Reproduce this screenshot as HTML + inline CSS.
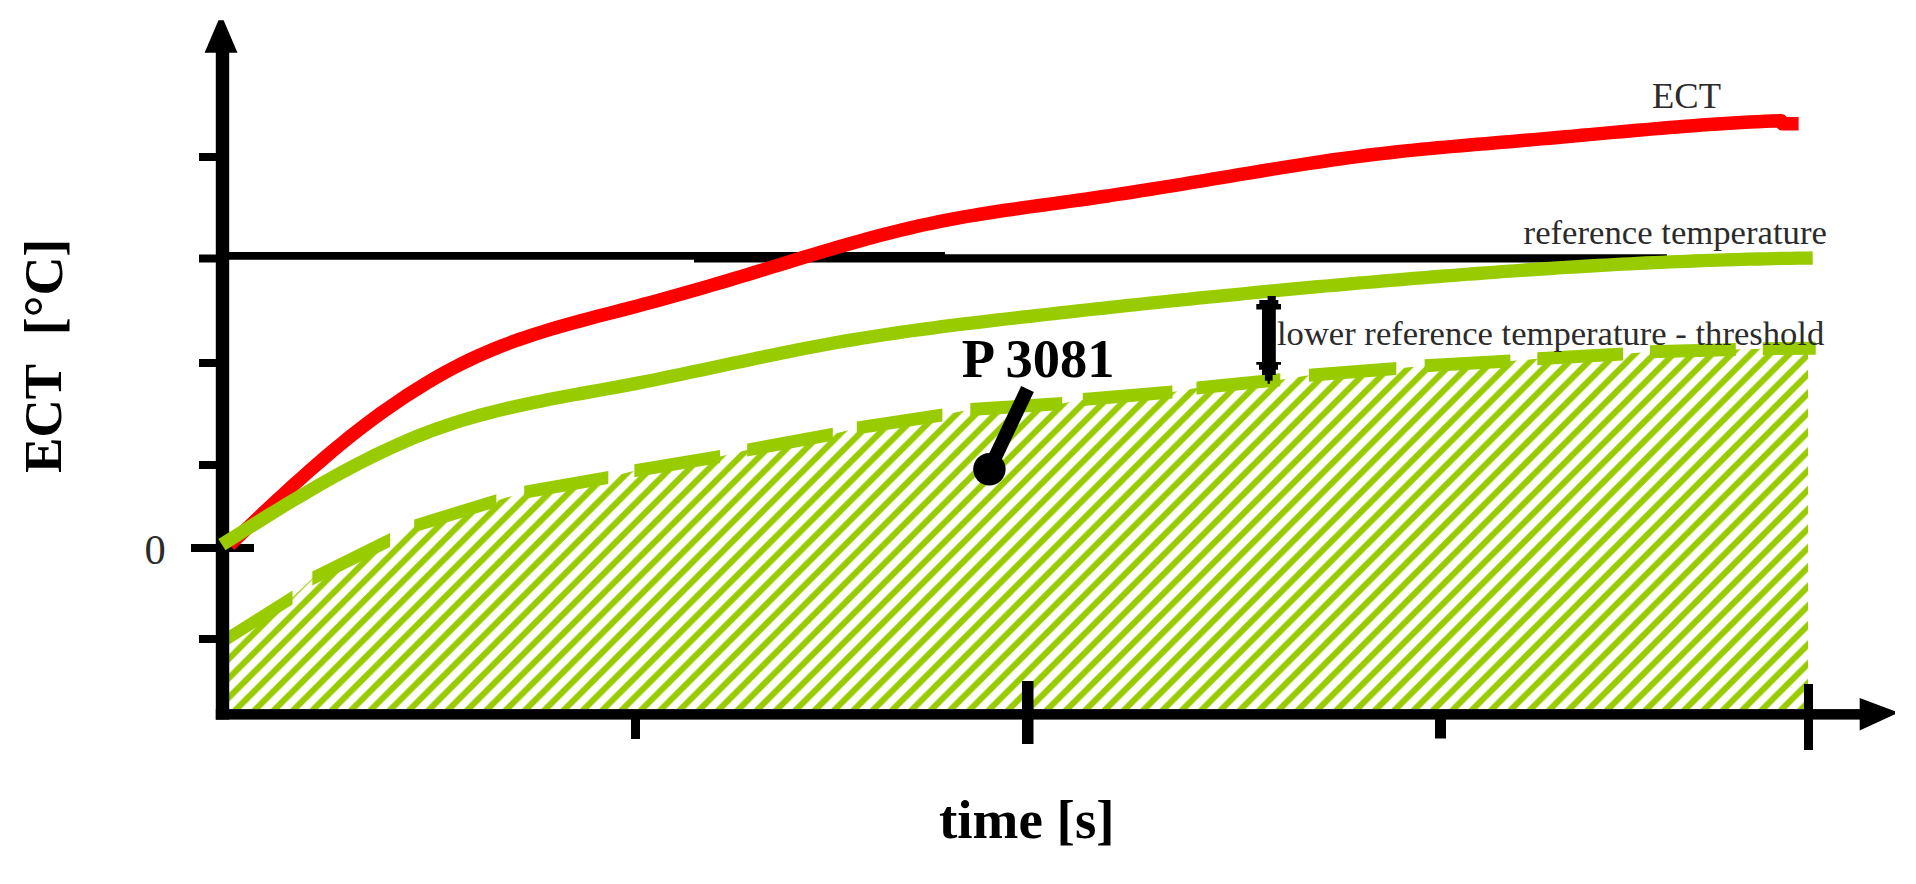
<!DOCTYPE html>
<html><head><meta charset="utf-8"><title>ECT chart</title>
<style>html,body{margin:0;padding:0;background:#fff;overflow:hidden}svg{display:block}</style>
</head><body>
<svg width="1916" height="884" viewBox="0 0 1916 884">
<defs>
<pattern id="h" patternUnits="userSpaceOnUse" width="19.32" height="19.32" x="18.2" y="0">
<path d="M-9.66 9.66 L9.66 -9.66 M0 19.32 L19.32 0 M9.66 28.98 L28.98 9.66" stroke="#99cc00" stroke-width="6.2" fill="none"/>
</pattern>
</defs>
<rect width="1916" height="884" fill="#fff"/>
<path d="M229 637.5 L229.0 637.5 L292.5 597.5 L312.3 578.5 L390.0 540.0 L414.2 525.9 L496.3 500.7 L524.2 492.3 L608.3 477.5 L634.4 470.8 L720.0 456.6 L747.2 450.0 L832.8 434.3 L856.8 428.0 L942.4 414.9 L970.3 409.5 L1062.2 403.5 L1082.8 399.4 L1172.4 392.0 L1196.5 387.9 L1280.3 379.8 L1309.0 375.2 L1396.3 368.5 L1424.6 365.8 L1510.3 361.0 L1537.3 358.8 L1623.0 354.0 L1650.0 351.7 L1735.8 349.4 L1762.8 348.7 L1808 348.3 L1808 709 L229 709 Z" fill="url(#h)"/>
<g fill="#99cc00"><polygon points="229.0,630.4 292.5,590.4 292.5,604.6 229.0,644.6"/><polygon points="312.3,571.4 390.0,532.9 390.0,547.1 312.3,585.6"/><polygon points="414.2,519.4 496.3,494.2 496.3,507.2 414.2,532.4"/><polygon points="524.2,485.8 608.3,471.0 608.3,484.0 524.2,498.8"/><polygon points="634.4,464.3 720.0,450.1 720.0,463.1 634.4,477.3"/><polygon points="747.2,443.5 832.8,427.8 832.8,440.8 747.2,456.5"/><polygon points="856.8,421.5 942.4,408.4 942.4,421.4 856.8,434.5"/><polygon points="970.3,403.0 1062.2,397.0 1062.2,410.0 970.3,416.0"/><polygon points="1082.8,392.9 1172.4,385.5 1172.4,398.5 1082.8,405.9"/><polygon points="1196.5,381.4 1280.3,373.3 1280.3,386.3 1196.5,394.4"/><polygon points="1309.0,368.7 1396.3,362.0 1396.3,375.0 1309.0,381.7"/><polygon points="1424.6,359.3 1510.3,354.5 1510.3,367.5 1424.6,372.3"/><polygon points="1537.3,352.3 1623.0,347.5 1623.0,360.5 1537.3,365.3"/><polygon points="1650.0,345.2 1735.8,342.9 1735.8,355.9 1650.0,358.2"/><polygon points="1762.8,342.2 1815.7,341.7 1815.7,354.7 1762.8,355.2"/></g>
<polygon points="229,252 945,252 945,254.3 1667,254.3 1667,262.4 694,262.4 694,259.7 229,259.7" fill="#000"/>
<g fill="#000">
<rect x="215.8" y="50" width="13.4" height="669.6"/>
<polygon points="204.6,52.8 218.5,20.2 223.6,20.2 237.5,52.8"/>
<rect x="215.8" y="709.1" width="1646" height="10.5"/>
<polygon points="1859.7,697.9 1895,711.3 1895,714.3 1859.7,730.5"/>
<rect x="199" y="153" width="17" height="8"/>
<rect x="199" y="254.5" width="17" height="8"/>
<rect x="199" y="359" width="17" height="8"/>
<rect x="199" y="461" width="17" height="8"/>
<rect x="191" y="544" width="63" height="8"/>
<rect x="199" y="635" width="17" height="8"/>
<rect x="631" y="715" width="9" height="24"/>
<rect x="1022" y="681" width="11.5" height="63"/>
<rect x="1435" y="715" width="11" height="23.5"/>
<rect x="1804" y="684" width="9" height="66"/>
</g>
<path d="M229.5 545.2 L237.5 537.5 L245.5 529.9 L253.5 522.3 L261.5 514.7 L269.5 507.2 L277.5 499.8 L285.5 492.4 L293.5 485.1 L301.5 477.9 L309.5 470.8 L317.5 463.8 L325.5 457.0 L333.5 450.2 L341.5 443.6 L349.5 437.1 L357.5 430.8 L365.5 424.7 L373.5 418.7 L381.5 412.8 L389.5 407.2 L397.5 401.7 L405.5 396.3 L413.5 391.2 L421.5 386.2 L429.5 381.3 L437.5 376.7 L445.5 372.2 L453.5 367.9 L461.5 363.8 L469.5 359.9 L477.5 356.2 L485.5 352.6 L493.5 349.2 L501.5 346.0 L509.5 343.0 L517.5 340.0 L525.5 337.3 L533.5 334.6 L541.5 332.1 L549.5 329.6 L557.5 327.2 L565.5 325.0 L573.5 322.7 L581.5 320.6 L589.5 318.4 L597.5 316.3 L605.5 314.3 L613.5 312.2 L621.5 310.1 L629.5 308.1 L637.5 306.0 L645.5 303.8 L653.5 301.7 L661.5 299.5 L669.5 297.3 L677.5 295.1 L685.5 292.8 L693.5 290.6 L701.5 288.3 L709.5 285.9 L717.5 283.6 L725.5 281.2 L733.5 278.8 L741.5 276.4 L749.5 274.0 L757.5 271.5 L765.5 269.1 L773.5 266.6 L781.5 264.2 L789.5 261.7 L797.5 259.3 L805.5 256.8 L813.5 254.4 L821.5 252.0 L829.5 249.6 L837.5 247.3 L845.5 245.0 L853.5 242.7 L861.5 240.5 L869.5 238.3 L877.5 236.1 L885.5 234.0 L893.5 232.0 L901.5 230.0 L909.5 228.1 L917.5 226.2 L925.5 224.5 L933.5 222.8 L941.5 221.2 L949.5 219.6 L957.5 218.1 L965.5 216.7 L973.5 215.3 L981.5 214.0 L989.5 212.8 L997.5 211.5 L1005.5 210.3 L1013.5 209.2 L1021.5 208.0 L1029.5 206.9 L1037.5 205.8 L1045.5 204.7 L1053.5 203.6 L1061.5 202.5 L1069.5 201.4 L1077.5 200.3 L1085.5 199.2 L1093.5 198.0 L1101.5 196.8 L1109.5 195.7 L1117.5 194.4 L1125.5 193.2 L1133.5 192.0 L1141.5 190.7 L1149.5 189.5 L1157.5 188.2 L1165.5 186.9 L1173.5 185.6 L1181.5 184.3 L1189.5 182.9 L1197.5 181.6 L1205.5 180.3 L1213.5 178.9 L1221.5 177.6 L1229.5 176.3 L1237.5 174.9 L1245.5 173.6 L1253.5 172.3 L1261.5 171.0 L1269.5 169.7 L1277.5 168.4 L1285.5 167.1 L1293.5 165.8 L1301.5 164.6 L1309.5 163.4 L1317.5 162.2 L1325.5 161.0 L1333.5 159.8 L1341.5 158.7 L1349.5 157.6 L1357.5 156.6 L1365.5 155.5 L1373.5 154.5 L1381.5 153.6 L1389.5 152.7 L1397.5 151.8 L1405.5 150.9 L1413.5 150.1 L1421.5 149.3 L1429.5 148.6 L1437.5 147.8 L1445.5 147.1 L1453.5 146.4 L1461.5 145.7 L1469.5 145.0 L1477.5 144.3 L1485.5 143.7 L1493.5 143.0 L1501.5 142.3 L1509.5 141.7 L1517.5 141.0 L1525.5 140.3 L1533.5 139.6 L1541.5 138.9 L1549.5 138.2 L1557.5 137.5 L1565.5 136.8 L1573.5 136.1 L1581.5 135.3 L1589.5 134.6 L1597.5 133.9 L1605.5 133.1 L1613.5 132.4 L1621.5 131.7 L1629.5 131.0 L1637.5 130.3 L1645.5 129.6 L1653.5 128.9 L1661.5 128.2 L1669.5 127.5 L1677.5 126.9 L1685.5 126.3 L1693.5 125.7 L1701.5 125.1 L1709.5 124.5 L1717.5 124.0 L1725.5 123.4 L1733.5 123.0 L1741.5 122.5 L1749.5 122.1 L1757.5 121.7 L1765.5 121.3 L1773.5 121.0 L1781.0 120.7 L1782.5 123.8 L1798.6 123.8" fill="none" stroke="#ff0000" stroke-width="13.5" stroke-linejoin="round"/>
<path d="M221.9 544.7 L229.9 539.6 L237.9 534.6 L245.9 529.5 L253.9 524.5 L261.9 519.5 L269.9 514.5 L277.9 509.6 L285.9 504.7 L293.9 499.9 L301.9 495.2 L309.9 490.5 L317.9 485.8 L325.9 481.3 L333.9 476.8 L341.9 472.4 L349.9 468.1 L357.9 463.9 L365.9 459.8 L373.9 455.8 L381.9 451.9 L389.9 448.2 L397.9 444.6 L405.9 441.1 L413.9 437.7 L421.9 434.5 L429.9 431.4 L437.9 428.5 L445.9 425.7 L453.9 423.0 L461.9 420.5 L469.9 418.1 L477.9 415.8 L485.9 413.7 L493.9 411.6 L501.9 409.6 L509.9 407.7 L517.9 405.9 L525.9 404.2 L533.9 402.5 L541.9 400.9 L549.9 399.3 L557.9 397.8 L565.9 396.3 L573.9 394.8 L581.9 393.4 L589.9 391.9 L597.9 390.5 L605.9 389.0 L613.9 387.6 L621.9 386.1 L629.9 384.6 L637.9 383.1 L645.9 381.5 L653.9 379.9 L661.9 378.3 L669.9 376.6 L677.9 375.0 L685.9 373.3 L693.9 371.6 L701.9 369.9 L709.9 368.2 L717.9 366.5 L725.9 364.8 L733.9 363.1 L741.9 361.4 L749.9 359.7 L757.9 358.0 L765.9 356.3 L773.9 354.7 L781.9 353.0 L789.9 351.4 L797.9 349.8 L805.9 348.3 L813.9 346.7 L821.9 345.2 L829.9 343.8 L837.9 342.3 L845.9 340.9 L853.9 339.6 L861.9 338.3 L869.9 337.0 L877.9 335.7 L885.9 334.5 L893.9 333.3 L901.9 332.2 L909.9 331.0 L917.9 329.9 L925.9 328.8 L933.9 327.8 L941.9 326.7 L949.9 325.7 L957.9 324.7 L965.9 323.7 L973.9 322.8 L981.9 321.8 L989.9 320.9 L997.9 319.9 L1005.9 319.0 L1013.9 318.1 L1021.9 317.2 L1029.9 316.3 L1037.9 315.4 L1045.9 314.5 L1053.9 313.6 L1061.9 312.7 L1069.9 311.8 L1077.9 310.9 L1085.9 310.0 L1093.9 309.2 L1101.9 308.3 L1109.9 307.4 L1117.9 306.6 L1125.9 305.7 L1133.9 304.9 L1141.9 304.0 L1149.9 303.2 L1157.9 302.4 L1165.9 301.5 L1173.9 300.7 L1181.9 299.9 L1189.9 299.1 L1197.9 298.2 L1205.9 297.4 L1213.9 296.6 L1221.9 295.8 L1229.9 295.1 L1237.9 294.3 L1245.9 293.5 L1253.9 292.7 L1261.9 291.9 L1269.9 291.2 L1277.9 290.4 L1285.9 289.7 L1293.9 288.9 L1301.9 288.2 L1309.9 287.4 L1317.9 286.7 L1325.9 286.0 L1333.9 285.3 L1341.9 284.6 L1349.9 283.9 L1357.9 283.2 L1365.9 282.5 L1373.9 281.8 L1381.9 281.1 L1389.9 280.4 L1397.9 279.8 L1405.9 279.1 L1413.9 278.4 L1421.9 277.8 L1429.9 277.1 L1437.9 276.5 L1445.9 275.9 L1453.9 275.3 L1461.9 274.7 L1469.9 274.0 L1477.9 273.5 L1485.9 272.9 L1493.9 272.3 L1501.9 271.7 L1509.9 271.1 L1517.9 270.6 L1525.9 270.0 L1533.9 269.5 L1541.9 269.0 L1549.9 268.5 L1557.9 267.9 L1565.9 267.4 L1573.9 267.0 L1581.9 266.5 L1589.9 266.0 L1597.9 265.5 L1605.9 265.1 L1613.9 264.7 L1621.9 264.2 L1629.9 263.8 L1637.9 263.4 L1645.9 263.0 L1653.9 262.7 L1661.9 262.3 L1669.9 261.9 L1677.9 261.6 L1685.9 261.3 L1693.9 261.0 L1701.9 260.7 L1709.9 260.4 L1717.9 260.1 L1725.9 259.8 L1733.9 259.6 L1741.9 259.4 L1749.9 259.2 L1757.9 259.0 L1765.9 258.8 L1773.9 258.6 L1781.9 258.4 L1789.9 258.3 L1797.9 258.2 L1805.9 258.1 L1812.7 258.0" fill="none" stroke="#99cc00" stroke-width="13.3" stroke-linejoin="round"/>
<g fill="#000">
<polygon points="1267.6,296 1275.8,296 1275.8,300 1278.3,300 1278.3,304 1281,304 1281,309.5 1275.8,309.5 1275.8,362 1281,362 1281,364.7 1278,364.7 1278,369.7 1275.8,369.7 1275.8,375 1272.6,375 1272.6,380.8 1269.9,380.8 1269.9,383.7 1267.6,383.7 1267.6,380.8 1264.9,380.8 1264.9,375 1262,375 1262,369.7 1259,369.7 1259,364.7 1256.3,364.7 1256.3,362 1262,362 1262,309.5 1256.3,309.5 1256.3,304 1259.3,304 1259.3,300 1267.6,300"/>
<line x1="1027.5" y1="389" x2="990" y2="468" stroke="#000" stroke-width="14"/>
<circle cx="989.4" cy="469.2" r="16.2"/>
</g>
<g font-family="'Liberation Serif', serif" fill="#000">
<text fill="#2b2b2b" x="1652" y="108.3" font-size="36.5">ECT</text>
<text fill="#2b2b2b" x="1523.6" y="243.7" font-size="34.7">reference temperature</text>
<text fill="#2b2b2b" x="1277" y="344.8" font-size="34.6">lower reference temperature - threshold</text>
<text x="961.7" y="377.2" font-size="54.5" font-weight="bold">P 3081</text>
<text fill="#2b2b2b" x="144.6" y="564.3" font-size="42.5">0</text>
<text x="939" y="838" font-size="55" font-weight="bold">time [s]</text>
<text transform="translate(60.5,472.9) rotate(-90)" font-size="53" font-weight="bold">ECT</text>
<text transform="translate(62,335.2) rotate(-90)" font-size="54" font-weight="bold">[°C]</text>
</g>
</svg>
</body></html>
